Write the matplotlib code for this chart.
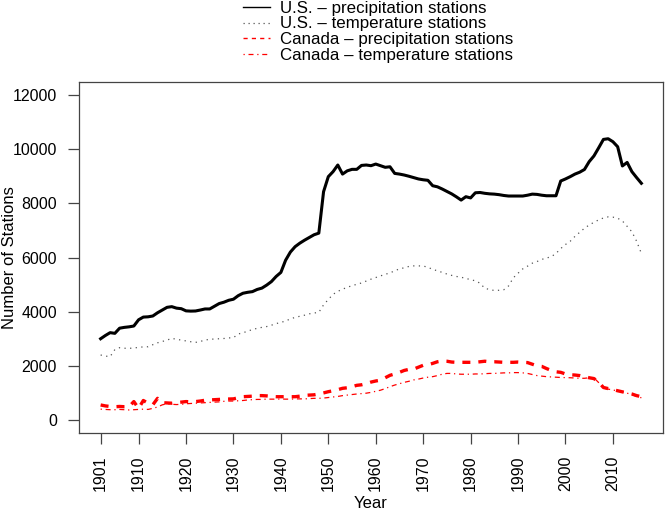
import numpy as np
import matplotlib
matplotlib.use('Agg')
import matplotlib.pyplot as plt
from matplotlib.lines import Line2D

plt.rcParams['font.family'] = ['Liberation Sans', 'DejaVu Sans']

years = np.arange(1902, 2017)

us_precip = [3000, 3120, 3225, 3200, 3390, 3420, 3440, 3470, 3700, 3800,
             3810, 3840, 3960, 4060, 4160, 4185, 4130, 4110, 4030, 4020,
             4025, 4060, 4100, 4100, 4200, 4300, 4350, 4420, 4460, 4590,
             4680, 4715, 4740, 4820, 4870, 4980, 5110, 5300, 5450, 5900,
             6200, 6400, 6530, 6640, 6740, 6840, 6900, 8430, 8985, 9170,
             9415, 9080, 9200, 9255, 9255, 9400, 9415, 9390, 9450, 9390,
             9330, 9350, 9105, 9080, 9045, 9000, 8950, 8900, 8870, 8850,
             8650, 8610, 8530, 8440, 8350, 8240, 8120, 8245, 8200, 8390,
             8400, 8370, 8350, 8340, 8320, 8290, 8270, 8270, 8270, 8270,
             8300, 8340, 8330, 8300, 8280, 8280, 8280, 8825, 8900, 8985,
             9080, 9150, 9250, 9540, 9750, 10050, 10360, 10385, 10275, 10090,
             9380, 9510, 9170, 8950, 8740]

us_temp = [2400, 2360, 2340, 2600, 2670, 2650, 2645, 2660, 2680, 2700,
           2705, 2780, 2850, 2900, 2950, 3015, 2980, 2950, 2920, 2890,
           2865, 2900, 2950, 2980, 2990, 3000, 3010, 3030, 3040, 3175,
           3220, 3280, 3340, 3385, 3420, 3450, 3500, 3560, 3600, 3660,
           3730, 3790, 3830, 3870, 3920, 3950, 3975, 4250, 4450, 4640,
           4750, 4830, 4900, 4960, 5010, 5060, 5130, 5200, 5260, 5320,
           5380, 5430, 5510, 5580, 5620, 5670, 5690, 5690, 5685, 5640,
           5560, 5510, 5450, 5390, 5340, 5300, 5270, 5230, 5180, 5140,
           5050, 4860, 4820, 4780, 4790, 4810, 4950, 5250, 5420, 5580,
           5680, 5790, 5850, 5930, 5980, 6030, 6150, 6330, 6480, 6600,
           6780, 6930, 7080, 7200, 7300, 7390, 7460, 7500, 7490, 7450,
           7350, 7150, 6950, 6600, 6150]

ca_precip = [555, 520, 500, 490, 500, 490, 490, 680, 430, 720,
             620, 560, 800, 640, 630, 620, 640, 660, 680, 670,
             680, 700, 730, 740, 750, 760, 770, 775, 780, 820,
             860, 870, 880, 900, 900, 890, 870, 860, 860, 860,
             860, 860, 880, 910, 920, 930, 960, 1000, 1045, 1080,
             1120, 1170, 1190, 1230, 1280, 1300, 1340, 1400, 1440, 1470,
             1560, 1650, 1700, 1760, 1830, 1870, 1880, 1950, 2020, 2040,
             2090, 2150, 2180, 2170, 2140, 2130, 2130, 2130, 2130, 2130,
             2150, 2170, 2150, 2150, 2140, 2130, 2130, 2130, 2140, 2130,
             2120, 2060, 2000, 1980, 1900, 1830, 1780, 1760, 1700, 1670,
             1660, 1640, 1600, 1560, 1530, 1400, 1200, 1160, 1120, 1080,
             1040, 1000, 960, 900, 860]

ca_temp = [400, 390, 380, 380, 390, 380, 370, 380, 390, 400,
           390, 430, 480, 560, 600, 580, 570, 580, 600, 610,
           620, 630, 640, 650, 660, 670, 690, 700, 700, 710,
           720, 740, 750, 760, 760, 770, 770, 770, 775, 770,
           770, 780, 780, 780, 790, 800, 800, 810, 830, 850,
           870, 900, 920, 940, 960, 975, 990, 1020, 1060, 1100,
           1160, 1230, 1290, 1340, 1390, 1430, 1480, 1510, 1550, 1580,
           1600, 1640, 1690, 1720, 1720, 1700, 1690, 1690, 1690, 1700,
           1700, 1710, 1720, 1720, 1730, 1740, 1740, 1750, 1750, 1740,
           1720, 1680, 1640, 1620, 1600, 1590, 1580, 1570, 1565, 1560,
           1550, 1540, 1540, 1560, 1560, 1380, 1180, 1140, 1110, 1070,
           1040, 990, 940, 870, 820]

tick_pos = [1902, 1910, 1920, 1930, 1940, 1950, 1960, 1970, 1980, 1990, 2000, 2010]
tick_labels = ['1901', '1910', '1920', '1930', '1940', '1950', '1960',
               '1970', '1980', '1990', '2000', '2010']
labels = ['U.S. \u2013 precipitation stations', 'U.S. \u2013 temperature stations',
          'Canada \u2013 precipitation stations', 'Canada \u2013 temperature stations']

fig = plt.figure(figsize=(6.65, 5.12), dpi=100)
ax = fig.add_axes([79/665, 79/512, 584/665, 351/512])

ax.plot(years, us_precip, color='black', lw=2.2, solid_joinstyle='round')
ax.plot(years, us_temp, color='#555555', lw=0.9, linestyle=(0, (1, 3.5)))
ax.plot(years, ca_precip, color='red', lw=2.4, linestyle=(0, (2.4, 2.4)))
ax.plot(years, ca_temp, color='red', lw=0.9, linestyle=(0, (1, 3, 4, 3)))

ax.set_xlim(1902 - 0.04*114, 2016 + 0.04*114)
ax.set_ylim(-480, 12480)
ax.set_xticks(tick_pos)
ax.set_xticklabels(tick_labels, rotation=90)
ax.set_yticks(np.arange(0, 12001, 2000))
ax.tick_params(axis='both', direction='out', length=8, width=0.9, color='#444444',
               labelsize=11.5, pad=8)
for s in ax.spines.values():
    s.set_color('#444444')
    s.set_linewidth(0.9)
ax.set_xlabel('Year', fontsize=12, labelpad=4)
ax.set_ylabel('Number of Stations', fontsize=12)
ax.yaxis.set_label_coords(-0.106, 0.5)

handles = [Line2D([], [], color='black', lw=1),
           Line2D([], [], color='#555555', lw=0.9, linestyle=(0, (1, 3))),
           Line2D([], [], color='red', lw=1, linestyle=(0, (3, 3))),
           Line2D([], [], color='red', lw=0.9, linestyle=(0, (1, 3, 4, 3)))]
fig.legend(handles, labels, loc='upper left', bbox_to_anchor=(236/665, 1.012),
           frameon=False, fontsize=12.2, labelspacing=0.05, handlelength=1.6,
           handletextpad=0.6, borderaxespad=0)

fig.savefig('out.png', dpi=100)
